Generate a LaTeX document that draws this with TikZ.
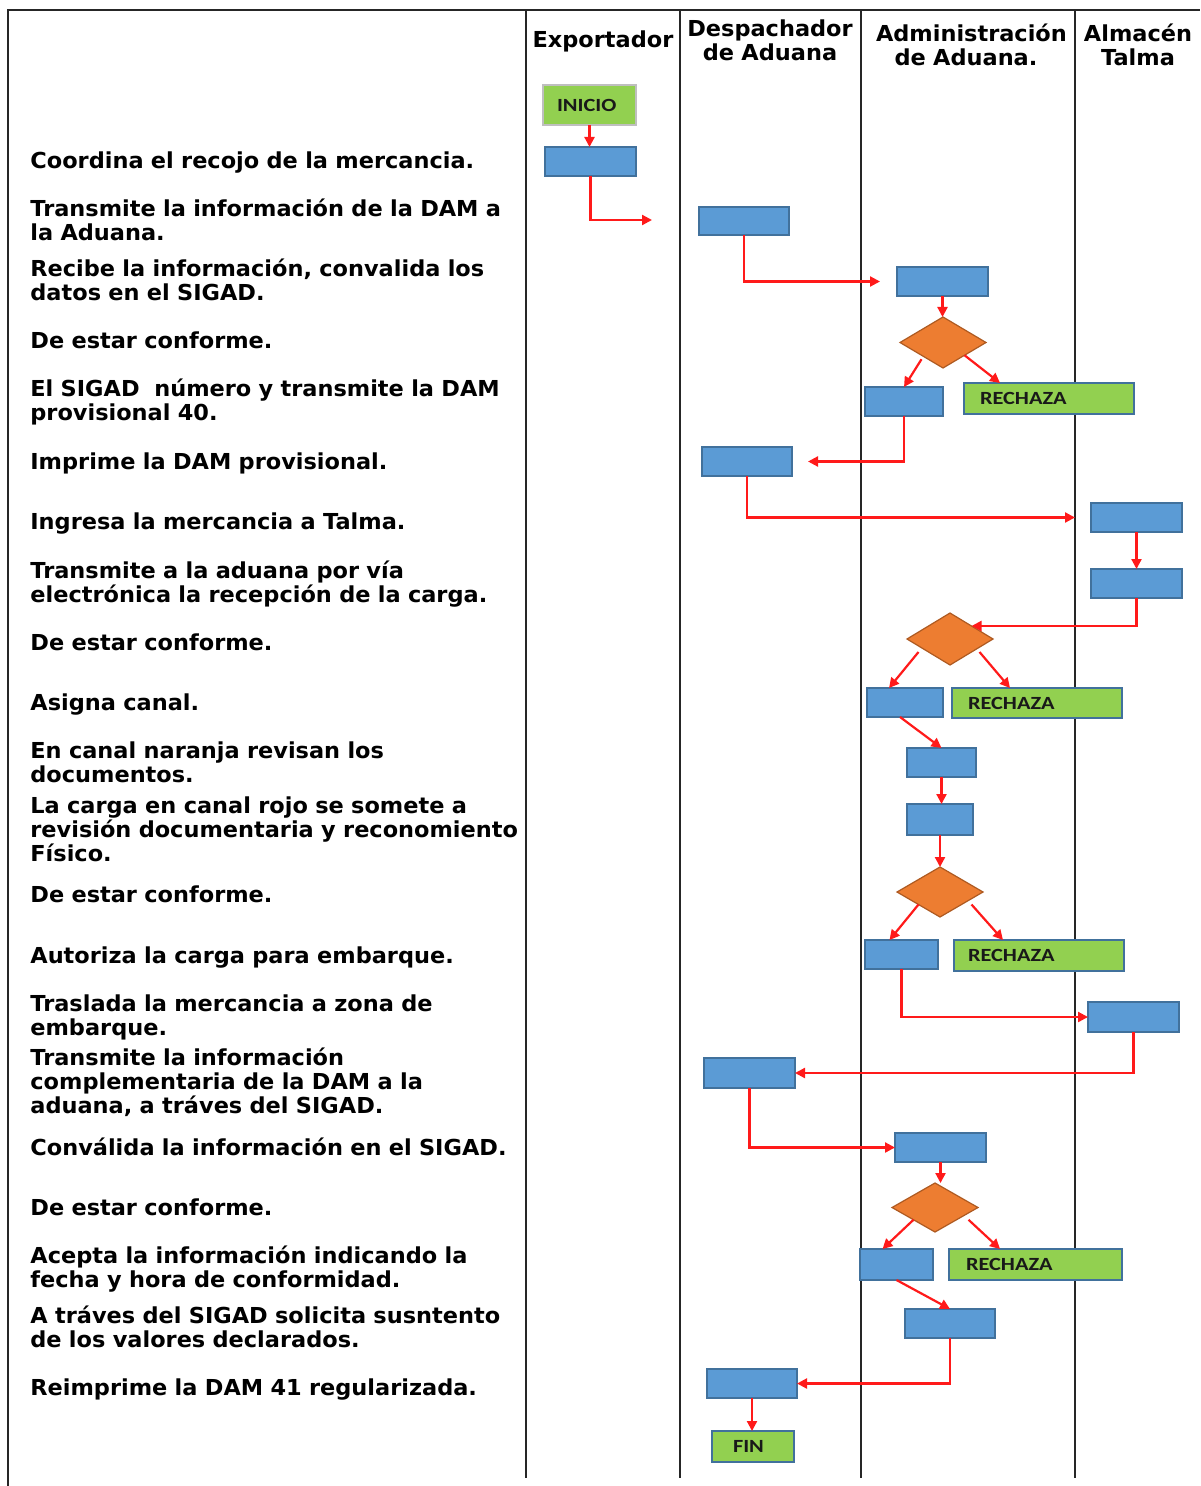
\documentclass[tikz,border=0pt]{standalone}
\usepackage{fontspec}
\setmainfont{DejaVu Sans}[FakeStretch=1.02]
\newfontfamily\tagfont[FakeStretch=1.2]{Carlito}
\usetikzlibrary{shapes.geometric,arrows.meta}
\definecolor{boxblue}{HTML}{5B9BD5}
\definecolor{boxedge}{HTML}{41719C}
\definecolor{okgreen}{HTML}{92D050}
\definecolor{decorange}{HTML}{ED7D31}
\definecolor{decedge}{HTML}{AE5A21}
\definecolor{laneline}{HTML}{262626}
\definecolor{flowred}{HTML}{FF1A1A}
\definecolor{startedge}{HTML}{BFBFBF}

% blue process box from its corners (in px units)
\newcommand\stepat[5]{%
  \node[stepbox, minimum width={(#4-#2)*0.5pt}, minimum height={(#5-#3)*0.5pt}]
    (#1) at ({(#2+#4)/2},{(#3+#5)/2}) {};}
% green labelled box: name, corners, left text offset, text
\newcommand\tagat[8][]{%
  \node[tagbox, inner xsep={#7*0.5pt}, text width={(#5-#3-2*#7)*0.5pt},
        minimum height={(#6-#4)*0.5pt}, #1]
    (#2) at ({(#3+#5)/2},{(#4+#6)/2}) {#8};}
% orange decision: name, centre, size
\newcommand\decideat[5]{%
  \node[decision, minimum width={#4*0.5pt}, minimum height={#5*0.5pt}]
    (#1) at (#2,#3) {};}

\begin{document}
\begin{tikzpicture}[x=0.5pt,y=-0.5pt,
  lane/.style={draw=laneline, line width=1.2pt},
  stepbox/.style={rectangle, fill=boxblue, draw=boxedge, line width=0.7pt,
    inner sep=0pt, outer sep=0pt},
  tagbox/.style={rectangle, fill=okgreen, draw=boxedge, line width=0.7pt,
    inner ysep=0pt, outer sep=0pt, align=left, text=black!90,
    font=\tagfont\bfseries\fontsize{9.3}{10}\selectfont},
  decision/.style={diamond, fill=decorange, draw=decedge, line width=0.6pt,
    inner sep=0pt, outer sep=0pt},
  flow/.style={draw=flowred, line width=1.1pt,
    -{Triangle[length=5pt,width=5pt]}},
  steptext/.style={anchor=base west, inner sep=0pt, text width=260pt,
    align=left, font=\bfseries\fontsize{11}{12}\selectfont},
  lanehead/.style={anchor=base, inner sep=0pt, text width=90pt,
    align=center, font=\bfseries\fontsize{11}{12}\selectfont}
]
\useasboundingbox (0,0) rectangle (1200,1486);

% frame and swimlane dividers
\draw[lane] (8,1486) -- (8,10) -- (1200,10);
\foreach \lx in {526,680,861,1075}
  \draw[lane] (\lx,10) -- (\lx,1478);

% lane headings
\node[lanehead] (hexp) at (603,48) {Exportador};
\node[lanehead] (hdes) at (770,37) {Despachador\\de Aduana};
\node[lanehead] (hadm) at (966,42) {Administración\\de Aduana.};
\node[lanehead] (halm) at (1138,42) {Almacén\\Talma};

% activity descriptions
\node[steptext] (t1)  at (30,169)  {Coordina el recojo de la mercancia.};
\node[steptext] (t2)  at (30,217)  {Transmite la información de la DAM a\\la Aduana.};
\node[steptext] (t3)  at (30,277)  {Recibe la información, convalida los\\datos en el SIGAD.};
\node[steptext] (t4)  at (30,349)  {De estar conforme.};
\node[steptext] (t5)  at (30,397)  {El SIGAD\ \ número y transmite la DAM\\provisional 40.};
\node[steptext] (t6)  at (30,469)  {Imprime la DAM provisional.};
\node[steptext] (t7)  at (30,529)  {Ingresa la mercancia a Talma.};
\node[steptext] (t8)  at (30,578)  {Transmite a la aduana por vía\\electrónica la recepción de la carga.};
\node[steptext] (t9)  at (30,650)  {De estar conforme.};
\node[steptext] (t10) at (30,710)  {Asigna canal.};
\node[steptext] (t11) at (30,758)  {En canal naranja revisan los\\documentos.};
\node[steptext] (t12) at (30,813)  {La carga en canal rojo se somete a\\revisión documentaria y reconomiento\\Físico.};
\node[steptext] (t13) at (30,902)  {De estar conforme.};
\node[steptext] (t14) at (30,963)  {Autoriza la carga para embarque.};
\node[steptext] (t15) at (30,1011) {Traslada la mercancia a zona de\\embarque.};
\node[steptext] (t16) at (30,1065) {Transmite la información\\complementaria de la DAM a la\\aduana, a tráves del SIGAD.};
\node[steptext] (t17) at (30,1155) {Conválida la información en el SIGAD.};
\node[steptext] (t18) at (30,1215) {De estar conforme.};
\node[steptext] (t19) at (30,1263) {Acepta la información indicando la\\fecha y hora de conformidad.};
\node[steptext] (t20) at (30,1323) {A tráves del SIGAD solicita susntento\\de los valores declarados.};
\node[steptext] (t21) at (30,1395) {Reimprime la DAM 41 regularizada.};

% start / end and rejection boxes
\tagat[draw=startedge]{INICIO}{543}{85}{636}{125}{14}{INICIO}
\tagat{R1}{964}{383}{1134}{414}{16}{RECHAZA}
\tagat{R2}{952}{688}{1122}{718}{16}{RECHAZA}
\tagat{R3}{954}{940}{1124}{971}{14}{RECHAZA}
\tagat{R4}{949}{1249}{1122}{1280}{17}{RECHAZA}
\tagat{FIN}{712}{1431}{794}{1462}{21}{FIN}

% process steps
\stepat{B1}{545}{147}{636}{176}
\stepat{B2}{699}{207}{789}{235}
\stepat{B3}{897}{267}{988}{296}
\stepat{B4}{865}{387}{943}{416}
\stepat{B5}{702}{447}{792}{476}
\stepat{B6}{1091}{503}{1182}{532}
\stepat{B7}{1091}{569}{1182}{598}
\stepat{B8}{867}{688}{943}{717}
\stepat{B9}{907}{748}{976}{777}
\stepat{B10}{907}{804}{973}{835}
\stepat{B11}{865}{940}{938}{969}
\stepat{B12}{1088}{1002}{1179}{1032}
\stepat{B13}{704}{1058}{795}{1088}
\stepat{B14}{895}{1133}{986}{1162}
\stepat{B15}{860}{1249}{933}{1280}
\stepat{B16}{905}{1309}{995}{1338}
\stepat{B17}{707}{1369}{797}{1398}

% decisions
\decideat{D1}{943}{342.5}{86}{51}
\decideat{D2}{950}{639}{86}{52}
\decideat{D3}{940}{892}{86}{50}
\decideat{D4}{935}{1207.5}{86}{49}

% flow
\coordinate (e1) at (652,220);
\draw[flow] (INICIO.south) -- (INICIO.south |- B1.north);
\draw[flow] (B1.south) |- (e1);
\draw[flow] (B2.south) |- ([xshift=-8.5pt]B3.west);
\draw[flow] (B3.south) -- (B3.south |- D1.north);
\draw[flow] ([yshift=-2pt]D1.south west) -- (B4.north);
\draw[flow] (D1.south east) -- ([xshift=18pt]R1.north west);
\draw[flow] (B4.south) |- ([xshift=8pt]B5.east);
\draw[flow] (B5.south) |- ([xshift=-8pt]B6.west);
\draw[flow] (B6.south) -- (B7.north);
\draw[flow] (B7.south) |- (D2.north east);
\draw[flow] ([xshift=-5pt]D2.south west) -- ([xshift=-8pt]B8.north);
\draw[flow] ([xshift=4pt]D2.south east) -- ([xshift=29pt]R2.north west);
\draw[flow] ([xshift=-2.5pt]B8.south) -- (B9.north);
\draw[flow] (B9.south) -- (B9.south |- B10.north);
\draw[flow] (B10.south) -- (B10.south |- D3.north);
\draw[flow] (D3.south west) -- ([xshift=-6pt]B11.north);
\draw[flow] ([xshift=5pt]D3.south east) -- ([xshift=24.5pt]R3.north west);
\draw[flow] (B11.south) |- (B12.west);
\draw[flow] (B12.south) |- (B13.east);
\draw[flow] (B13.south) |- (B14.west);
\draw[flow] (B14.south) -- (B14.south |- D4.north);
\draw[flow] (D4.south west) -- ([xshift=-7pt]B15.north);
\draw[flow] ([xshift=6pt]D4.south east) -- ([xshift=25.5pt]R4.north west);
\draw[flow] (B15.south) -- (B16.north);
\draw[flow] (B16.south) |- (B17.east);
\draw[flow] (B17.south) -- (B17.south |- FIN.north);
\end{tikzpicture}
\end{document}
